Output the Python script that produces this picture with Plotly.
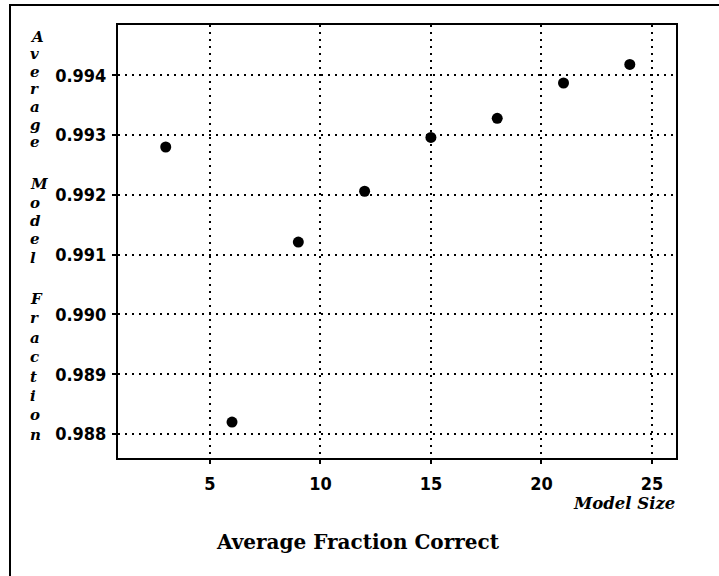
import plotly.graph_objects as go

# Data
model_size = [3, 6, 9, 12, 15, 18, 21, 24]
avg_fraction = [0.99280, 0.98820, 0.99121, 0.99206, 0.99296, 0.99328, 0.99387, 0.99418]
x_ticks = [5, 10, 15, 20, 25]
y_ticks = [0.988, 0.989, 0.990, 0.991, 0.992, 0.993, 0.994]
y_tick_labels = ["0.988", "0.989", "0.990", "0.991", "0.992", "0.993", "0.994"]
y_title_words = ["Average", "Model", "Fraction"]
x_title = "Model Size"
chart_title = "Average Fraction Correct"

W, H = 719, 576
PLOT_L, PLOT_R, PLOT_T, PLOT_B = 118, 676, 25, 458
L, T, R, B = PLOT_L, PLOT_T, W - PLOT_R, H - PLOT_B
PW, PH = PLOT_R - PLOT_L, PLOT_B - PLOT_T

def px_x(p):
    return (p - PLOT_L) / PW

def px_y(p):
    return (PLOT_B - p) / PH

TICKFONT = dict(family="DejaVu Sans Condensed", size=18, color="black", weight="bold")
SERIF = "DejaVu Serif"

fig = go.Figure()
fig.add_trace(go.Scatter(
    x=model_size, y=avg_fraction, mode="markers",
    marker=dict(color="black", size=11, line=dict(width=0)),
    showlegend=False, cliponaxis=False, hoverinfo="skip",
))

axis_common = dict(
    showline=True, linecolor="black", linewidth=2, mirror=True,
    ticks="outside", ticklen=4, tickwidth=1.5, tickcolor="black",
    showgrid=True, gridcolor="black", gridwidth=1.6, griddash="2px,5px",
    zeroline=False, tickfont=TICKFONT,
)

fig.update_xaxes(range=[0.84, 26.09], tickvals=x_ticks,
                 ticktext=[str(v) for v in x_ticks], ticklabelstandoff=4, **axis_common)
fig.update_yaxes(range=[0.98760, 0.99484], tickvals=y_ticks,
                 ticktext=y_tick_labels, ticklabelstandoff=2, **axis_common)

annotations = []
# stacked vertical y-axis title: (first letter centre y, step) per word
word_layout = [(37, 17.5), (184, 18.5), (299, 19.4)]
for word, (start, step) in zip(y_title_words, word_layout):
    for i, ch in enumerate(word):
        annotations.append(dict(
            x=px_x(29), y=px_y(start + i * step), xref="paper", yref="paper",
            text=ch, showarrow=False, xanchor="left", yanchor="middle",
            borderpad=0,
            font=dict(family=SERIF, size=15, color="black", weight="bold", style="italic"),
        ))

annotations.append(dict(
    x=px_x(677), y=px_y(503), xref="paper", yref="paper", text=x_title,
    showarrow=False, xanchor="right", yanchor="middle",
    font=dict(family=SERIF, size=16.5, color="black", weight="bold", style="italic"),
))
annotations.append(dict(
    x=px_x(358), y=px_y(542), xref="paper", yref="paper", text=chart_title,
    showarrow=False, xanchor="center", yanchor="middle",
    font=dict(family=SERIF, size=20, color="black", weight="bold"),
))

fig.update_layout(
    width=W, height=H,
    margin=dict(l=L, r=R, t=T, b=B, autoexpand=False),
    paper_bgcolor="white", plot_bgcolor="white",
    annotations=annotations,
    hovermode=False,
    shapes=[dict(type="rect", xref="paper", yref="paper",
                 x0=px_x(10), x1=px_x(760), y0=px_y(620), y1=px_y(5),
                 line=dict(color="black", width=2), layer="below")],
)

fig.write_html("out.html", config={"displayModeBar": False},
               post_script="document.body.style.margin='0px';document.body.style.overflow='hidden';")
